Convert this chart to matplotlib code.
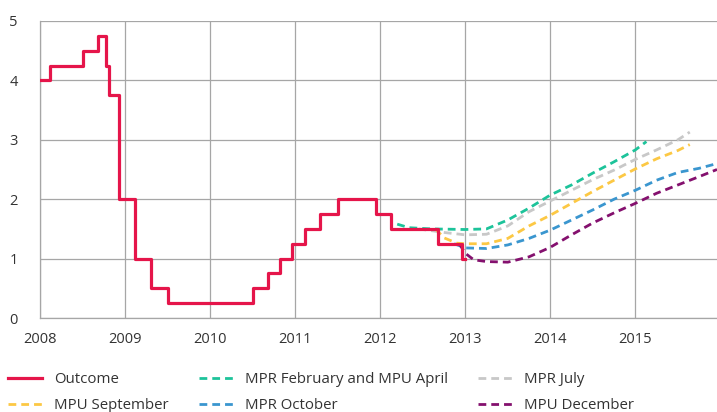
import numpy as np
import matplotlib
matplotlib.use("Agg")
import matplotlib.pyplot as plt

plt.rcParams['font.family'] = ['Open Sans', 'DejaVu Sans']

# repo rate outcome (step changes: date, level)
outcome_x = [2008.0, 2008.12, 2008.5, 2008.68, 2008.78, 2008.81, 2008.93, 2009.12,
             2009.31, 2009.5, 2010.5, 2010.68, 2010.82, 2010.96, 2011.12, 2011.29,
             2011.5, 2011.95, 2012.13, 2012.68, 2012.96, 2013.0]
outcome_y = [4.0, 4.25, 4.5, 4.75, 4.25, 3.75, 2.0, 1.0,
             0.5, 0.25, 0.5, 0.75, 1.0, 1.25, 1.5, 1.75,
             2.0, 1.75, 1.5, 1.25, 1.0, 1.0]

# forecasts
feb_x = [2012.2, 2012.34, 2012.6, 2013.0, 2013.25, 2013.5, 2013.75, 2014.0,
         2014.25, 2014.5, 2014.75, 2015.0, 2015.13]
feb_y = [1.58, 1.52, 1.5, 1.49, 1.5, 1.65, 1.85, 2.07, 2.24, 2.44, 2.63, 2.83, 2.97]

jul_x = [2012.45, 2012.75, 2013.0, 2013.25, 2013.5, 2013.75, 2014.0, 2014.25,
         2014.5, 2014.75, 2015.0, 2015.25, 2015.5, 2015.64]
jul_y = [1.5, 1.44, 1.4, 1.41, 1.55, 1.79, 1.97, 2.15, 2.33, 2.49, 2.67, 2.83, 3.0, 3.13]

sep_x = [2012.65, 2012.75, 2012.9, 2013.0, 2013.25, 2013.5, 2013.75, 2014.0,
         2014.25, 2014.5, 2014.75, 2015.0, 2015.25, 2015.5, 2015.64]
sep_y = [1.5, 1.35, 1.26, 1.25, 1.25, 1.34, 1.55, 1.73, 1.93, 2.13, 2.32, 2.51,
         2.68, 2.82, 2.92]

oct_x = [2012.87, 2013.0, 2013.25, 2013.5, 2013.75, 2014.0, 2014.25, 2014.5,
         2014.75, 2015.0, 2015.25, 2015.5, 2015.75, 2015.96]
oct_y = [1.25, 1.18, 1.17, 1.23, 1.34, 1.48, 1.65, 1.82, 2.0, 2.15, 2.32, 2.45,
         2.52, 2.6]

dec_x = [2012.93, 2013.0, 2013.1, 2013.25, 2013.5, 2013.75, 2014.0, 2014.25,
         2014.5, 2014.75, 2015.0, 2015.25, 2015.5, 2015.75, 2015.96]
dec_y = [1.25, 1.09, 0.98, 0.95, 0.94, 1.03, 1.19, 1.4, 1.6, 1.77, 1.93, 2.1,
         2.24, 2.38, 2.5]

years = list(range(2008, 2016))

fig = plt.figure(figsize=(7.17, 4.12), dpi=100)
ax = fig.add_axes([40 / 717, 94 / 412, 677 / 717, 297 / 412])

dash = (2.8, 1.8)
lw_d = 2.0
h_feb, = ax.plot(feb_x, feb_y, color='#1DC39A', lw=lw_d, dashes=dash)
h_jul, = ax.plot(jul_x, jul_y, color='#C8C8C8', lw=lw_d, dashes=dash)
h_sep, = ax.plot(sep_x, sep_y, color='#FCC844', lw=lw_d, dashes=dash)
h_oct, = ax.plot(oct_x, oct_y, color='#3A96CF', lw=lw_d, dashes=dash)
h_dec, = ax.plot(dec_x, dec_y, color='#84106E', lw=lw_d, dashes=dash)
h_out, = ax.plot(outcome_x, outcome_y, color='#E5154A', lw=2.3,
                 drawstyle='steps-post', zorder=5)

ax.set_xlim(2008, 2015.96)
ax.set_ylim(0, 5)
ax.set_xticks(years)
ax.set_yticks(range(0, 6))
ax.grid(True, color='#a6a6a6', lw=0.9)
ax.set_axisbelow(True)
for s in ['top', 'right']:
    ax.spines[s].set_visible(False)
for s in ['left', 'bottom']:
    ax.spines[s].set_color('#a6a6a6')
    ax.spines[s].set_linewidth(0.9)
ax.tick_params(length=0, labelsize=10.5, colors='#333333')
ax.tick_params(axis='y', pad=16)
ax.tick_params(axis='x', pad=10)

handles = [h_out, h_sep, h_feb, h_oct, h_jul, h_dec]
labels = ['Outcome', 'MPU September', 'MPR February and MPU April',
          'MPR October', 'MPR July', 'MPU December']
fig.legend(handles, labels, ncol=3, loc='upper left',
           bbox_to_anchor=(8 / 717, 40 / 412), frameon=False, borderpad=0,
           borderaxespad=0, fontsize=10.8, handlelength=2.27, handletextpad=0.8,
           columnspacing=2.0, labelspacing=0.75, labelcolor='#333333')

fig.savefig('out.png', dpi=100)
